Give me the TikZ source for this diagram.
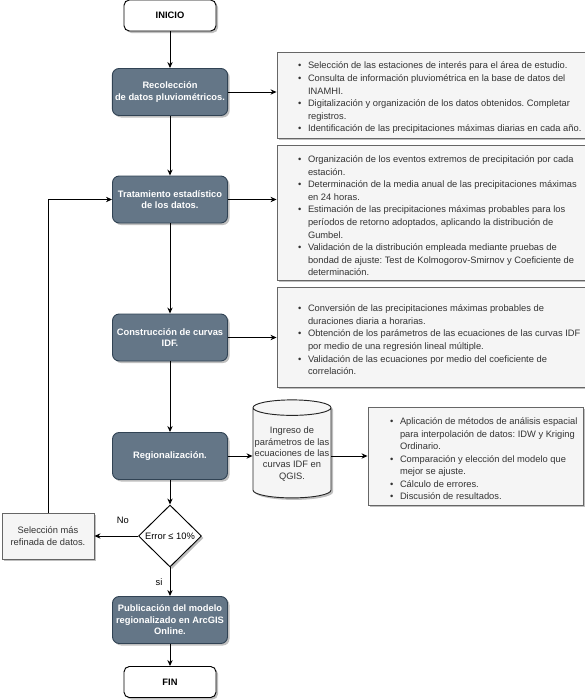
\documentclass[tikz,border=0pt]{standalone}
\usepackage{fontspec}
\setmainfont{Liberation Sans}
\usepackage{enumitem}
\usetikzlibrary{positioning}
\usetikzlibrary{arrows.meta}
\usetikzlibrary{shapes.geometric}
\usetikzlibrary{shadows}

\definecolor{pizarra}{HTML}{647687}
\definecolor{pizarraborde}{HTML}{314354}
\definecolor{notafondo}{HTML}{F5F5F5}
\definecolor{notaborde}{HTML}{666666}
\definecolor{notatexto}{HTML}{333333}

\newcommand{\letrachica}{\fontsize{7}{9.4}\selectfont\frenchspacing}
\newenvironment{puntos}[1]{\begin{itemize}[nosep,leftmargin=#1,rightmargin=-12pt,labelsep=5pt,label={\scriptsize\textbullet}]}{\end{itemize}}

\begin{document}
\begin{tikzpicture}[x=0.75pt, y=-0.75pt, line width=0.7pt,
        font=\letrachica,
        sombra/.style={drop shadow={shadow xshift=1.5pt, shadow yshift=-1.5pt, fill=black, opacity=0.25}},
        terminal/.style={rectangle, rounded corners=4pt, draw=black, fill=white, font=\letrachica\bfseries,
                         minimum width=69pt, minimum height=23.25pt, sombra},
        proceso/.style={rectangle, rounded corners=5pt, draw=pizarraborde, fill=pizarra, text=white,
                        font=\fontsize{7}{8.6}\selectfont\bfseries, align=center, inner sep=2pt,
                        minimum width=86.25pt, minimum height=35.25pt, sombra},
        nota/.style={rectangle, draw=notaborde, fill=notafondo, text=notatexto, align=flush left,
                     inner xsep=6pt, sombra},
        flecha/.style={-{Stealth[length=4.5pt,width=4pt]}},
        ]
    \useasboundingbox (0,0) rectangle (585,700);

    % columna principal
    \node[terminal] (inicio) at (170,15.5) {INICIO};
    \node[proceso] (rec) at (170,92) {Recolección\\ de datos pluviométricos.};
    \node[proceso] (trat) at (170,199.5) {Tratamiento estadístico\\ de los datos.};
    \node[proceso] (cons) at (170,337.5) {Construcción de curvas\\ IDF.};
    \node[proceso] (reg) at (170,456) {Regionalización.};
    \node[diamond, draw=black, fill=white, inner sep=0pt, minimum width=47.25pt, minimum height=46.5pt,
          sombra, label={center:Error ≤ 10\%}] (dec) at (170,536) {};
    \node[proceso] (pub) at (170,620) {Publicación del modelo\\ regionalizado en ArcGIS\\ Online.};
    \node[terminal] (fin) at (170,682) {FIN};

    \node[nota, align=center, minimum width=69pt, minimum height=34.5pt, inner xsep=2pt] (sel) at (48,536)
        {Selección más\\ refinada de datos.};

    % notas de cada etapa
    \node[nota, text width=219pt, minimum height=63pt] (n1) at (431,95) {%
        \begin{puntos}{17.25pt}
        \item Selección de las estaciones de interés para el área de estudio.
        \item Consulta de información pluviométrica en la base de datos del\\ INAMHI.
        \item Digitalización y organización de los datos obtenidos. Completar\\ registros.
        \item Identificación de las precipitaciones máximas diarias en cada año.
        \end{puntos}};
    \node[nota, text width=219pt, minimum height=94.5pt] (n2) at (431,213) {%
        \begin{puntos}{17.25pt}
        \item Organización de los eventos extremos de precipitación por cada\\ estación.
        \item Determinación de la media anual de las precipitaciones máximas\\ en 24 horas.
        \item Estimación de las precipitaciones máximas probables para los\\ períodos de retorno adoptados, aplicando la distribución de\\ Gumbel.
        \item Validación de la distribución empleada mediante pruebas de\\ bondad de ajuste: Test de Kolmogorov-Smirnov y Coeficiente de\\ determinación.
        \end{puntos}};
    \node[nota, text width=219pt, minimum height=75pt] (n3) at (431,337) {%
        \begin{puntos}{17.25pt}
        \item Conversión de las precipitaciones máximas probables de\\ duraciones diaria a horarias.
        \item Obtención de los parámetros de las ecuaciones de las curvas IDF\\ por medio de una regresión lineal múltiple.
        \item Validación de las ecuaciones por medio del coeficiente de\\ correlación.
        \end{puntos}};
    \node[cylinder, shape border rotate=90, aspect=0.2, draw=black!85, fill=notafondo, text=notatexto,
          align=center, inner sep=1pt, minimum width=58.5pt, minimum height=73.5pt, sombra,
          font=\fontsize{7}{8.6}\selectfont] (qgis) at (292,454)
        {Ingreso de\\ parámetros de las\\ ecuaciones de las\\ curvas IDF en\\ QGIS.};
    \node[nota, text width=149.25pt, minimum height=73.5pt] (n4) at (475.5,456) {%
        \begin{puntos}{18pt}
        \item Aplicación de métodos de análisis espacial\\ para interpolación de datos: IDW y Kriging\\ Ordinario.
        \item Comparación y elección del modelo que\\ mejor se ajuste.
        \item Cálculo de errores.
        \item Discusión de resultados.
        \end{puntos}};

    % conectores
    \draw[flecha] (inicio) -- (rec);
    \draw[flecha] (rec) -- (trat);
    \draw[flecha] (trat) -- (cons);
    \draw[flecha] (cons) -- (reg);
    \draw[flecha] (reg) -- (dec);
    \draw[flecha] (dec) -- node[left, xshift=-2pt] {si} (pub);
    \draw[flecha] (pub) -- (fin);
    \draw[flecha] (rec.east) -- (rec.east -| n1.west);
    \draw[flecha] (trat.east) -- (trat.east -| n2.west);
    \draw[flecha] (cons.east) -- (cons.east -| n3.west);
    \draw[flecha] (reg.east) -- (reg.east -| qgis.west);
    \draw[flecha] (reg.east -| qgis.east) -- (reg.east -| n4.west);
    \draw[flecha] (dec.west) -- node[above=6pt, pos=0.35] {No} (sel.east);
    \draw[flecha] (sel.north) |- (trat.west);
\end{tikzpicture}
\end{document}
